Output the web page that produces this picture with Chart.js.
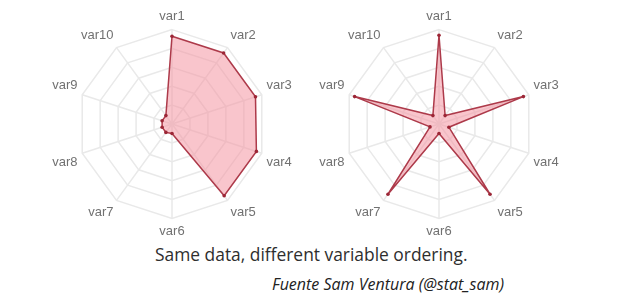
<!DOCTYPE html>
<html>
<head>
<meta charset="utf-8">
<script src="https://cdn.jsdelivr.net/npm/chart.js@4.4.0/dist/chart.umd.min.js"></script>
<style>
  html, body { margin: 0; padding: 0; background: #fff; }
  body { width: 617px; height: 298px; position: relative; overflow: hidden; }
  .box { position: absolute; }
  #caption { position: absolute; left: 155px; top: 244px; line-height: 20px; font-family: "Open Sans", sans-serif; font-size: 17.4px; color: #2e2e2e; white-space: nowrap; }
  #source { position: absolute; left: 272px; top: 274px; line-height: 20px; font-family: "Open Sans", sans-serif; font-style: italic; font-size: 16px; color: #222; white-space: nowrap; }
</style>
</head>
<body>
<div class="box" id="b1" style="left:47px; top:9px; width:252px; height:231px;"><canvas id="c1"></canvas></div>
<div class="box" id="b2" style="left:314px; top:9px; width:252px; height:231px;"><canvas id="c2"></canvas></div>
<div id="caption">Same data, different variable ordering.</div>
<div id="source">Fuente Sam Ventura (@stat_sam)</div>
<script>
const labels = ["var1", "var2", "var3", "var4", "var5", "var6", "var7", "var8", "var9", "var10"];
const leftValues = [93, 93, 93, 94, 94, 10, 11, 11, 11, 11];
const rightValues = [94, 11, 94, 11, 92, 10, 92, 10, 94, 11];
const scaleTicks = [0, 20, 40, 60, 80, 100];

function makeRadar(id, values) {
  return new Chart(document.getElementById(id), {
    type: 'radar',
    data: {
      labels: labels,
      datasets: [{
        data: values,
        backgroundColor: 'rgba(244, 150, 162, 0.55)',
        borderColor: '#ad3a4a',
        borderWidth: 1.5,
        pointBackgroundColor: '#9c2636',
        pointBorderColor: '#9c2636',
        pointRadius: 1.8,
        pointBorderWidth: 0,
        tension: 0
      }]
    },
    options: {
      responsive: true,
      maintainAspectRatio: false,
      animation: false,
      layout: { padding: 0 },
      plugins: { legend: { display: false }, tooltip: { enabled: false } },
      scales: {
        r: {
          min: scaleTicks[0],
          max: scaleTicks[scaleTicks.length - 1],
          ticks: { display: false, stepSize: scaleTicks[1] - scaleTicks[0] },
          grid: { color: '#e9e9e9', lineWidth: 1.5 },
          angleLines: { color: '#e9e9e9', lineWidth: 1.5 },
          pointLabels: {
            color: '#717171',
            padding: 5,
            font: { family: 'Liberation Sans, Arial, sans-serif', size: 13 }
          }
        }
      }
    }
  });
}
makeRadar('c1', leftValues);
makeRadar('c2', rightValues);
</script>
</body>
</html>
